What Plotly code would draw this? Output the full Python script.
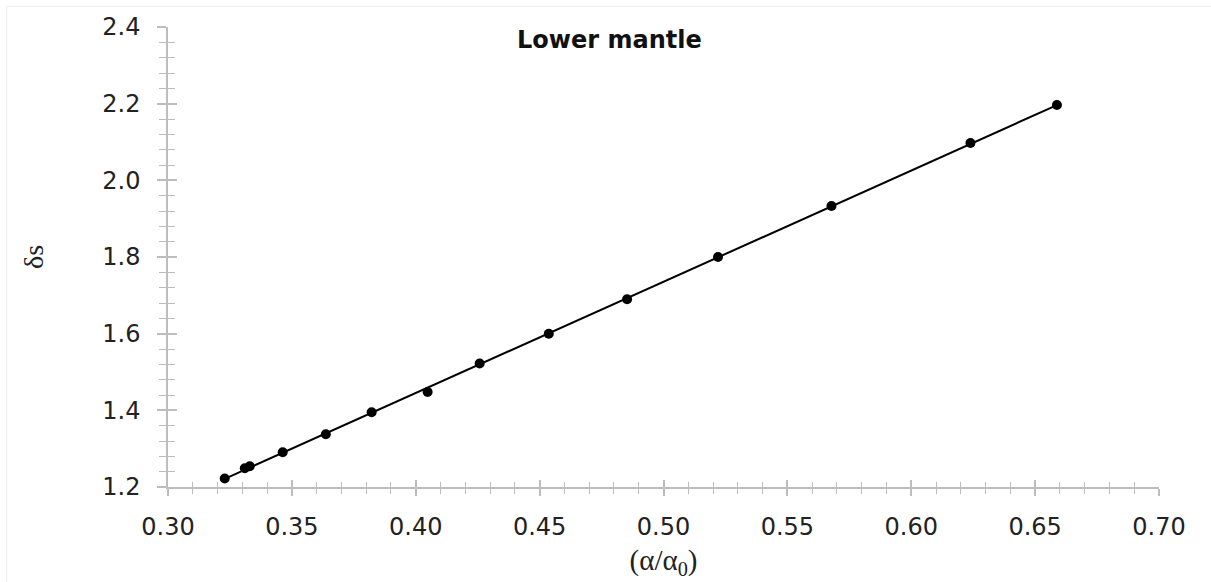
import numpy as np
import plotly.graph_objects as go

# Data
alpha_ratio = [0.3229, 0.3310, 0.3330, 0.3463, 0.3637, 0.3822, 0.4048,
               0.4258, 0.4537, 0.4853, 0.5220, 0.5678, 0.6239, 0.6588]
delta_s = [1.222, 1.249, 1.254, 1.2905, 1.3375, 1.395, 1.448,
           1.522, 1.600, 1.690, 1.800, 1.933, 2.0975, 2.1966]

# Linear fit line derived from the data
coef = np.polyfit(alpha_ratio, delta_s, 1)
fit_x = [min(alpha_ratio), max(alpha_ratio)]
fit_y = list(np.polyval(coef, fit_x))

AXC = "#bdbdbd"
FONT = "DejaVu Sans"

fig = go.Figure()
fig.add_trace(go.Scatter(x=fit_x, y=fit_y, mode="lines",
                         line=dict(color="black", width=2), showlegend=False,
                         hoverinfo="skip"))
fig.add_trace(go.Scatter(x=alpha_ratio, y=delta_s, mode="markers",
                         marker=dict(color="black", size=10), showlegend=False))
# invisible trace on overlay axes (for crossing tick marks)
fig.add_trace(go.Scatter(x=[None], y=[None], xaxis="x2", yaxis="y2",
                         showlegend=False, hoverinfo="skip"))

common_tick = dict(tickcolor=AXC, tickwidth=1.5)

fig.update_layout(
    width=1211, height=582,
    margin=dict(l=168, r=52, t=27, b=95),
    paper_bgcolor="white", plot_bgcolor="white",
    font=dict(family=FONT, color="#222222", size=24),
    xaxis=dict(range=[0.30, 0.70], dtick=0.05, tick0=0.30, tickformat=".2f",
               automargin=False,
               showgrid=False, zeroline=False, showline=True, linecolor=AXC,
               linewidth=1.5, ticks="outside", ticklen=7, **common_tick,
               minor=dict(dtick=0.01, ticks="outside", ticklen=5,
                          tickcolor=AXC, tickwidth=1.2, showgrid=False),
               ticklabelstandoff=10,
               title=dict(text="(α/α<sub>0</sub>)",
                          font=dict(family="Liberation Serif", size=29, color="#222"),
                          standoff=10)),
    yaxis=dict(range=[1.2, 2.4], dtick=0.2, tick0=1.2, tickformat=".1f",
               automargin=False,
               showgrid=False, zeroline=False, showline=True, linecolor=AXC,
               linewidth=1.5, ticks="outside", ticklen=9, **common_tick,
               minor=dict(dtick=0.04, ticks="outside", ticklen=7,
                          tickcolor=AXC, tickwidth=1.2, showgrid=False),
               ticklabelstandoff=12,
               title=dict(text="δs",
                          font=dict(family="Liberation Serif", size=28, color="#222"),
                          standoff=50)),
    xaxis2=dict(overlaying="x", matches="x", anchor="y", side="bottom",
                automargin=False,
                range=[0.30, 0.70], dtick=0.05, tick0=0.30,
                showgrid=False, zeroline=False, showline=False,
                showticklabels=False, ticks="inside", ticklen=7, **common_tick,
                minor=dict(dtick=0.01, ticks="inside", ticklen=5,
                           tickcolor=AXC, tickwidth=1.2, showgrid=False)),
    yaxis2=dict(overlaying="y", matches="y", anchor="x", side="left",
                automargin=False,
                range=[1.2, 2.4], dtick=0.2, tick0=1.2,
                showgrid=False, zeroline=False, showline=False,
                showticklabels=False, ticks="inside", ticklen=9, **common_tick,
                minor=dict(dtick=0.04, ticks="inside", ticklen=7,
                           tickcolor=AXC, tickwidth=1.2, showgrid=False)),
    annotations=[dict(text="<b>Lower mantle</b>", xref="paper", yref="paper",
                      x=0.4457, y=0.971, xanchor="center", yanchor="middle",
                      showarrow=False, font=dict(family=FONT, size=24, color="#111"))],
    shapes=[
        dict(type="line", xref="paper", yref="paper", x0=-0.1628, x1=1.06,
             y0=1.045, y1=1.045, line=dict(color="#eeeeee", width=1)),
        dict(type="line", xref="paper", yref="paper", x0=-0.1628, x1=-0.1628,
             y0=1.045, y1=-0.21, line=dict(color="#eeeeee", width=1)),
    ],
)

fig.write_html("out.html")
